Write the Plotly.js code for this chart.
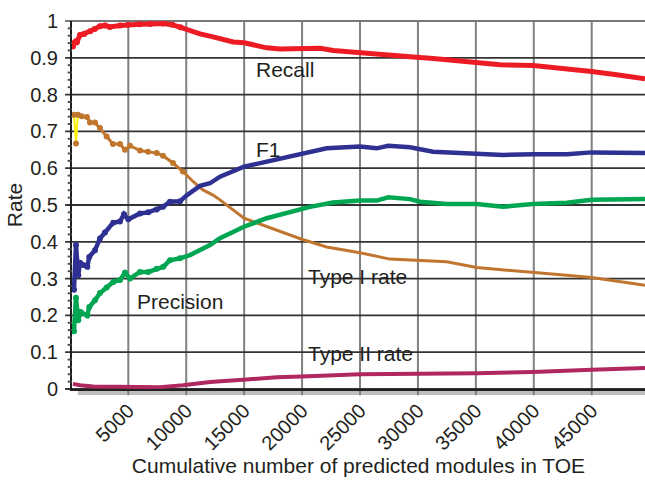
<!DOCTYPE html>
<html>
<head>
<meta charset="utf-8">
<script src="https://cdn.plot.ly/plotly-3.0.1.min.js"></script>
<style>html,body{margin:0;padding:0;background:#fff}#chart{width:645px;height:481px}</style>
</head>
<body>
<div id="chart"></div>
<script>
// ---- data ----
const recallX = [224, 311, 483, 570, 829, 1200, 1700, 2100, 2550, 3000, 3400, 4300, 5000, 6000, 6900, 8000, 8800, 9500, 10000, 10500, 11187, 12050, 12913, 14064, 15010, 16080, 16945, 18093, 19820, 21546, 22697, 24998, 27303, 29600, 31326, 35072, 37083, 39959, 42841, 44999, 47157, 49600];
const recallY = [0.931, 0.940, 0.945, 0.943, 0.962, 0.965, 0.972, 0.978, 0.986, 0.988, 0.984, 0.988, 0.990, 0.991, 0.992, 0.993, 0.990, 0.983, 0.977, 0.970, 0.965, 0.959, 0.951, 0.943, 0.941, 0.933, 0.927, 0.924, 0.924, 0.926, 0.920, 0.913, 0.909, 0.902, 0.898, 0.888, 0.881, 0.879, 0.871, 0.863, 0.854, 0.843];

const f1X = [311, 483, 682, 829, 1114, 1459, 1631, 2123, 2555, 2987, 3703, 4281, 4627, 4998, 6008, 6724, 7449, 7993, 8597, 9461, 10000, 11187, 12050, 12913, 14985, 16945, 19215, 22124, 24998, 26440, 27441, 29314, 31300, 35072, 37342, 39932, 42841, 44999, 49600];
const f1Y = [0.270, 0.391, 0.309, 0.343, 0.337, 0.332, 0.359, 0.377, 0.409, 0.425, 0.452, 0.455, 0.475, 0.461, 0.477, 0.480, 0.488, 0.495, 0.509, 0.510, 0.525, 0.552, 0.559, 0.577, 0.604, 0.618, 0.632, 0.654, 0.659, 0.654, 0.661, 0.657, 0.645, 0.641, 0.636, 0.638, 0.638, 0.643, 0.641];

const precX = [311, 483, 682, 889, 1459, 1631, 2123, 2555, 3133, 3703, 4281, 4713, 5145, 6008, 6724, 7449, 8019, 8597, 9461, 10324, 11187, 12050, 12913, 14985, 16945, 19215, 20682, 22668, 24998, 26440, 27441, 29314, 30178, 32482, 35072, 37342, 39932, 42841, 44999, 49600];
const precY = [0.157, 0.248, 0.187, 0.209, 0.200, 0.223, 0.241, 0.261, 0.276, 0.291, 0.296, 0.316, 0.300, 0.318, 0.318, 0.327, 0.332, 0.350, 0.355, 0.364, 0.377, 0.391, 0.410, 0.441, 0.464, 0.482, 0.495, 0.507, 0.512, 0.512, 0.521, 0.516, 0.509, 0.503, 0.503, 0.495, 0.503, 0.506, 0.514, 0.516];

const type1StartX = [311, 483, 640];
const type1StartY = [0.745, 0.667, 0.745];
const type1X = [640, 975, 1433, 1692, 2123, 2555, 3133, 3677, 4281, 4713, 5145, 6008, 6698, 7449, 7993, 8856, 9720, 10583, 11187, 11446, 12309, 12913, 14985, 16945, 19966, 22124, 24998, 27588, 29893, 32482, 35072, 37083, 39932, 42841, 44999, 49600];
const type1Y = [0.745, 0.741, 0.739, 0.724, 0.724, 0.709, 0.686, 0.666, 0.666, 0.650, 0.661, 0.648, 0.645, 0.641, 0.634, 0.614, 0.591, 0.564, 0.548, 0.541, 0.527, 0.514, 0.464, 0.441, 0.407, 0.386, 0.370, 0.353, 0.350, 0.346, 0.330, 0.325, 0.316, 0.309, 0.303, 0.282];

const type2X = [224, 829, 1977, 4998, 7734, 9720, 12050, 14900, 17808, 19966, 24998, 35072, 39932, 44999, 49600];
const type2Y = [0.014, 0.010, 0.007, 0.005, 0.005, 0.010, 0.019, 0.025, 0.032, 0.034, 0.040, 0.043, 0.046, 0.052, 0.057];

const xTickVals = [5000, 10000, 15000, 20000, 25000, 30000, 35000, 40000, 45000];
const xTickText = ['5000', '10000', '15000', '20000', '25000', '30000', '35000', '40000', '45000'];
const yTickVals = [0, 0.1, 0.2, 0.3, 0.4, 0.5, 0.6, 0.7, 0.8, 0.9, 1];
const yTickText = ['0', '0.1', '0.2', '0.3', '0.4', '0.5', '0.6', '0.7', '0.8', '0.9', '1'];
const yMinorStep = 0.02;

const labelNames = ['Recall', 'F1', 'Precision', 'Type I rate', 'Type II rate'];
const labelX = [15874, 15874, 5576, 20337, 20337];
const labelY = [0.868, 0.650, 0.237, 0.305, 0.096];
// --------------------------------------

const FONT = 'Liberation Sans, Arial, Helvetica, sans-serif';
const TXT = '#231f20';
const Y_RANGE = [0, 1];

function series(x, y, color, w) {
  return {
    x: x, y: y, type: 'scatter', mode: 'lines',
    line: {color: color, width: w},
    hoverinfo: 'skip', showlegend: false
  };
}
// dotted early parts: markers only on points below 10000
function dots(x, y, color) {
  const xs = [], ys = [];
  x.forEach((v, i) => { if (v < 10000) { xs.push(v); ys.push(y[i]); } });
  return {x: xs, y: ys, type: 'scatter', mode: 'markers',
          marker: {color: color, size: 6, line: {width: 0}},
          hoverinfo: 'skip', showlegend: false};
}

const traces = [
  series(type2X, type2Y, '#b0285f', 4),
  series(type1X, type1Y, '#c0762e', 3),
  dots(type1X, type1Y, '#c0762e'),
  {x: type1StartX, y: type1StartY, type: 'scatter', mode: 'lines+markers',
   line: {color: '#fff200', width: 2}, marker: {color: '#c0762e', size: 6, line: {width: 0}},
   hoverinfo: 'skip', showlegend: false},
  series(precX, precY, '#00a651', 4.5),
  dots(precX, precY, '#00a651'),
  series(f1X, f1Y, '#2e3192', 4.5),
  dots(f1X, f1Y, '#2e3192'),
  series(recallX, recallY, '#ed1c24', 5),
  dots(recallX, recallY, '#ed1c24')
];

const annotations = labelNames.map((t, i) => ({
  x: labelX[i], y: labelY[i], xref: 'x', yref: 'y', text: t, showarrow: false,
  xanchor: 'left', yanchor: 'middle', font: {family: FONT, size: 21, color: TXT}
}));

// grid lines and ticks drawn as shapes at the tick values (below the data)
const toPaper = v => (v - Y_RANGE[0]) / (Y_RANGE[1] - Y_RANGE[0]);
const H = 0.0025; // half thickness in paper units (~0.9px)
const gridShapes = [];
xTickVals.forEach(v => gridShapes.push({type: 'line', xref: 'x', yref: 'paper', x0: v, x1: v, y0: -0.017, y1: 1,
  line: {color: '#808080', width: 2}, layer: 'below'}));
yTickVals.forEach(v => {
  const p = toPaper(v);
  gridShapes.push({type: 'rect', xref: 'paper', yref: 'paper', x0: -0.012, x1: 1, y0: p - H, y1: p + H,
    fillcolor: v === 1 ? '#777777' : '#333333', line: {width: 0}, layer: 'below'});
});
for (let k = 1; k < 50; k++) {
  if (k % 5 === 0) continue;
  const p = toPaper(k * yMinorStep);
  gridShapes.push({type: 'rect', xref: 'paper', yref: 'paper', x0: -0.0075, x1: 0, y0: p - H, y1: p + H,
    fillcolor: '#444444', line: {width: 0}});
}

const layout = {
  width: 645, height: 481,
  margin: {l: 72, r: 0, t: 21, b: 92},
  paper_bgcolor: '#fff', plot_bgcolor: 'rgba(0,0,0,0)',
  font: {family: FONT, size: 20, color: TXT},
  xaxis: {
    range: [140, 49600],
    tickmode: 'array', tickvals: xTickVals, ticktext: xTickText,
    tickangle: -45, ticks: '', tickfont: {family: FONT, size: 20, color: TXT},
    showgrid: false,
    showline: true, linecolor: TXT, linewidth: 2,
    zeroline: false,
    title: {text: 'Cumulative number of predicted modules in TOE', font: {family: FONT, size: 21, color: TXT}, standoff: 5}
  },
  yaxis: {
    range: Y_RANGE,
    tickmode: 'array', tickvals: yTickVals, ticktext: yTickText,
    ticks: '', ticklabelstandoff: 8,
    showgrid: false,
    showline: true, linecolor: TXT, linewidth: 2,
    zeroline: false,
    tickfont: {family: FONT, size: 20, color: TXT},
    title: {text: 'Rate', font: {family: FONT, size: 21, color: TXT}, standoff: 2}
  },
  shapes: [
    {type: 'rect', xref: 'paper', yref: 'paper', x0: 0.0105, x1: 1, y0: -0.0165, y1: -0.004,
     fillcolor: '#bcbec0', line: {width: 0}, layer: 'below'}
  ].concat(gridShapes),
  annotations: annotations
};

Plotly.newPlot('chart', traces, layout, {displayModeBar: false});
</script>
</body>
</html>
